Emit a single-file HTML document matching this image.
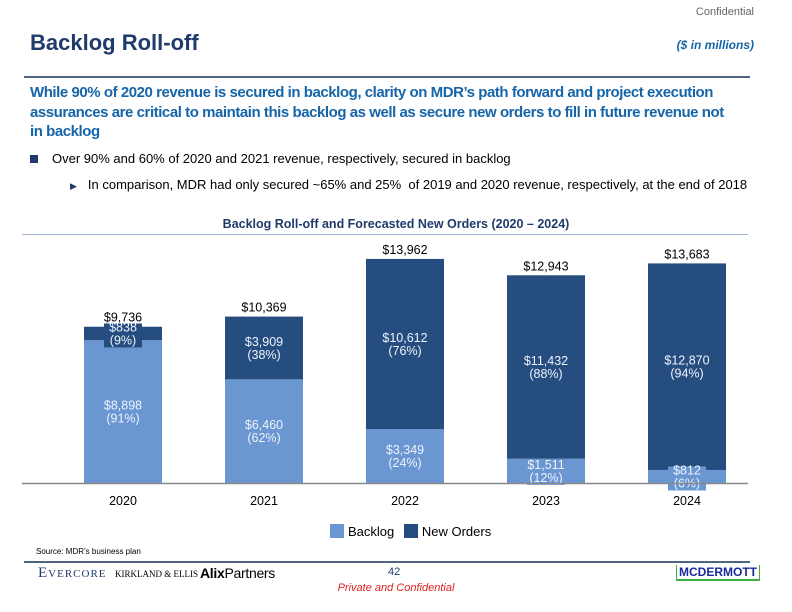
<!DOCTYPE html>
<html><head><meta charset="utf-8">
<style>
body{margin:0;width:792px;height:612px;background:#fff;font-family:"Liberation Sans",Arial,sans-serif;position:relative;overflow:hidden}
.a{position:absolute;white-space:nowrap}
</style></head><body>
<div class="a" style="right:38px;top:6px;font-size:11px;color:#666">Confidential</div>
<div class="a" style="left:30px;top:30px;font-size:22px;font-weight:bold;color:#1f3b6b">Backlog Roll-off</div>
<div class="a" style="right:38px;top:38px;font-size:12px;font-weight:bold;font-style:italic;color:#1565a8">($ in millions)</div>
<div class="a" style="left:24px;top:76px;width:726px;height:2px;background:#50657f"></div>
<div class="a" style="left:30px;top:83px;font-size:15px;line-height:19.5px;font-weight:bold;color:#1565a8;white-space:normal;width:730px;letter-spacing:-0.45px">While 90% of 2020 revenue is secured in backlog, clarity on MDR’s path forward and project execution assurances are critical to maintain this backlog as well as secure new orders to fill in future revenue not in&nbsp;backlog</div>
<div class="a" style="left:30px;top:151px;font-size:13px;color:#000"><span style="display:inline-block;width:8px;height:8px;background:#1f3b6b;margin-right:14px"></span>Over 90% and 60% of 2020 and 2021 revenue, respectively, secured in backlog</div>
<div class="a" style="left:70px;top:177px;font-size:13px;color:#000"><span style="font-size:9px;color:#1f3b6b;margin-right:11px">&#9654;</span>In comparison, MDR had only secured ~65% and 25%&nbsp; of 2019 and 2020 revenue, respectively, at the end of 2018</div>
<div class="a" style="left:0;width:792px;text-align:center;top:217px;font-size:12.5px;font-weight:bold;color:#1f3b6b">Backlog Roll-off and Forecasted New Orders (2020 – 2024)</div>
<div class="a" style="left:22px;top:234px;width:726px;height:1px;background:#9fb6d3"></div>

<svg id="chart" class="a" style="left:0;top:0" width="792" height="612"></svg>

<div class="a" style="left:330px;top:524px;font-size:13px">
<span><span style="display:inline-block;width:14px;height:14px;background:#6a96d2;vertical-align:-2px;margin-right:4px"></span>Backlog</span>
<span style="margin-left:6px"><span style="display:inline-block;width:14px;height:14px;background:#264d80;vertical-align:-2px;margin-right:4px"></span>New Orders</span>
</div>
<div class="a" style="left:36px;top:547px;font-size:8px">Source: MDR’s business plan</div>
<div class="a" style="left:24px;top:561px;width:726px;height:2px;background:#50657f"></div>
<div class="a" style="left:38px;top:565px;font-family:'Liberation Serif',serif;font-size:15px;color:#1f3b6b;letter-spacing:1px">E<span style="font-size:11px">VERCORE</span></div>
<div class="a" style="left:115px;top:569px;font-family:'Liberation Serif',serif;font-size:9px">KIRKLAND &amp; ELLIS</div>
<div class="a" style="left:200px;top:565px;font-size:14px;letter-spacing:-0.3px"><b>Alix</b>Partners</div>
<div class="a" style="left:388px;top:566px;font-size:11px;color:#1f3b6b">42</div>
<div class="a" style="left:0;width:792px;text-align:center;top:582px;font-size:11px;font-style:italic;color:#e02020">Private and Confidential</div>
<div class="a" style="left:676px;top:565px;font-size:12px;font-weight:bold;color:#1a2a9a;border-bottom:2px solid #3cb043;border-left:1px solid #3cb043;border-right:1px solid #3cb043;padding:0 2px;line-height:14px">MCDERMOTT</div>

<script>
const years=["2020","2021","2022","2023","2024"];
const backlog=[8898,6460,3349,1511,812];
const newOrders=[838,3909,10612,11432,12870];
const totals=[9736,10369,13962,12943,13683];
const backlogPct=["(91%)","(62%)","(24%)","(12%)","(6%)"];
const newPct=["(9%)","(38%)","(76%)","(88%)","(94%)"];
const svg=document.getElementById('chart');
const NS="http://www.w3.org/2000/svg";
const baseY=483, k=0.01605, x0=123, step=141, bw=78;
const y=v=>baseY-v*k;
const xc=i=>x0+i*step;
const fmt=v=>"$"+v.toLocaleString('en-US');
function el(t,a){const e=document.createElementNS(NS,t);for(const n in a)e.setAttribute(n,a[n]);svg.appendChild(e);return e;}
function txt(x,yy,s,fill,name){const e=el('text',{x:x,y:yy,'text-anchor':'middle','font-size':12.5,fill:fill,'font-family':'Liberation Sans, Arial, sans-serif'});e.textContent=s;


return e;}
function labelBg(x,mid,h,color,name){
  if(h>=28) return;
  const r=el('rect',{x:x-19,y:mid-10,width:38,height:24,fill:color});
  
  
}
years.forEach((yr,i)=>{
  const b=el('rect',{x:xc(i)-bw/2,y:y(backlog[i]),width:bw,height:backlog[i]*k,fill:'#6a96d2'});
  
  
  const n=el('rect',{x:xc(i)-bw/2,y:y(backlog[i]+newOrders[i]),width:bw,height:newOrders[i]*k,fill:'#264d80'});
  
  
  const topY=y(backlog[i]+newOrders[i]);
  txt(xc(i),topY-5,fmt(totals[i]),'#000','total-label-'+yr);
  const bmid=(y(backlog[i])+baseY)/2;
  const nmid=(topY+y(backlog[i]))/2;
  labelBg(xc(i),bmid,backlog[i]*k,'#6a96d2','backlog-label-bg-'+yr);
  labelBg(xc(i),nmid,newOrders[i]*k,'#264d80','new-orders-label-bg-'+yr);
  txt(xc(i),bmid-2,fmt(backlog[i]),'#eef3fa','backlog-label-'+yr);
  txt(xc(i),bmid+11,backlogPct[i],'#eef3fa','backlog-pct-'+yr);
  txt(xc(i),nmid-2,fmt(newOrders[i]),'#eef3fa','new-orders-label-'+yr);
  txt(xc(i),nmid+11,newPct[i],'#eef3fa','new-orders-pct-'+yr);
  txt(xc(i),baseY+22,yr,'#000','x-tick-'+yr);
});
const ax=el('line',{x1:22,x2:748,y1:baseY+0.5,y2:baseY+0.5,stroke:'#888','stroke-width':1.5});


</script>
</body></html>
